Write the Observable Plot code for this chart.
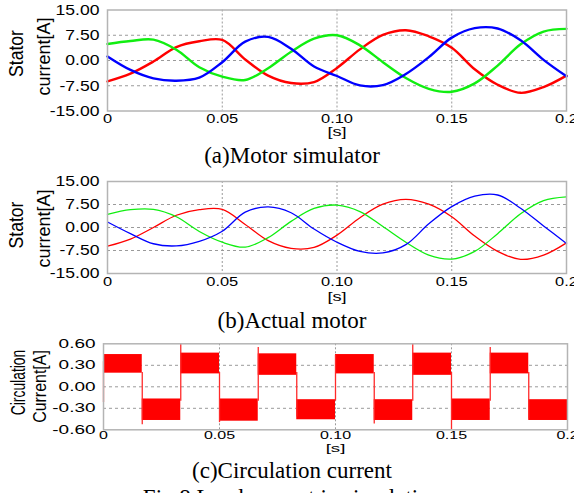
<!DOCTYPE html>
<html><head><meta charset="utf-8">
<script src="https://cdn.jsdelivr.net/npm/d3@7"></script>
<script src="https://cdn.jsdelivr.net/npm/@observablehq/plot@0.6"></script>
<style>
html,body{margin:0;padding:0;background:#fff;overflow:hidden;}
#wrap{position:relative;width:574px;height:493px;overflow:hidden;background:#fff;}
.panel{position:absolute;left:0;}
#overlay{position:absolute;left:0;top:0;pointer-events:none;}
</style></head><body>
<div id="wrap"></div>
<script>
// ---- data ----
const time = [0,0.01,0.02,0.03,0.04,0.05,0.06,0.07,0.08,0.09,0.1,0.11,0.12,0.13,0.14,0.15,0.16,0.17,0.18,0.19,0.2];
// (a) Motor simulator stator currents [A]
const simRed   = [-6.2,-3.9,-0.3,4.0,5.7,6.1,0.3,-4.5,-6.7,-6.4,-2.2,3.3,7.6,9.0,7.2,3.8,-2.6,-7.2,-9.6,-7.9,-4.5];
const simGreen = [4.9,5.8,6.2,3.2,-2.0,-4.8,-5.8,-2.3,2.6,6.5,7.5,4.5,-0.5,-5.2,-8.4,-9.3,-6.8,-1.5,4.8,8.6,9.4];
const simBlue  = [1.2,-2.8,-5.3,-6.0,-5.1,-0.5,5.6,7.0,3.5,-1.8,-4.6,-7.4,-7.3,-4.0,1.0,6.8,9.6,9.5,6.0,0.2,-4.7];
// (b) Actual motor stator currents [A]
const actRed   = [-6.1,-3.8,0.0,4.0,5.8,5.9,1.0,-4.3,-6.8,-6.5,-2.5,3.2,7.6,9.2,7.6,3.5,-2.8,-7.8,-10.4,-9.0,-5.0];
const actGreen = [4.3,5.8,5.9,3.5,-1.3,-4.8,-6.4,-3.3,2.0,6.2,7.3,5.2,0.3,-4.8,-9.0,-10.3,-7.8,-2.0,4.5,8.8,10.0];
const actBlue  = [1.8,-2.0,-5.3,-6.0,-4.5,-1.2,5.0,6.7,4.8,-0.5,-4.8,-7.8,-8.3,-5.6,1.2,6.8,10.2,10.6,6.3,0.5,-5.2];
// (c) Circulation current: segments between switching instants
const switchTimes = [0,0.0167,0.0333,0.05,0.0667,0.0833,0.1,0.1167,0.1333,0.15,0.1667,0.1833,0.2];
const segTop    = [0.45,-0.17,0.47,-0.17,0.46,-0.18,0.45,-0.18,0.47,-0.17,0.47,-0.18];
const segBottom = [0.19,-0.47,0.18,-0.48,0.16,-0.46,0.18,-0.47,0.16,-0.47,0.18,-0.47];
const edgeTimes = [0,0.0167,0.0333,0.05,0.0667,0.0833,0.1,0.1167,0.1333,0.15,0.1667,0.1833];
const edgeFrom  = [-0.22,0.2,-0.2,0.2,-0.2,0.2,-0.2,0.2,-0.2,0.2,-0.2,0.2];
const edgeTo    = [0.35,-0.53,0.6,-0.5,0.55,-0.42,0.44,-0.52,0.6,-0.6,0.55,-0.45];
// ticks
const xTicks = [0,0.05,0.1,0.15,0.2];
const xTickLabels = ["0","0.05","0.10","0.15","0.2"];
const xGrid = [0.05,0.1,0.15];
const statorTicks = [-15,-7.5,0,7.5,15];
const statorTickLabels = ["-15.00","-7.50","0.00","7.50","15.00"];
const statorGrid = [-7.5,0,7.5];
const circTicks = [-0.6,-0.3,0,0.3,0.6];
const circTickLabels = ["-0.60","-0.30","0.00","0.30","0.60"];
const circGrid = [-0.3,0,0.3];
const xUnit = "[s]";

const RED = "#ff0000", GREEN = "#11ee11", BLUE = "#0000ff";
const wrap = document.getElementById("wrap");

function rows(vals){ return time.map((t,i)=>({t, v: vals[i]})); }

function stretch(svg, selector, size, s){
  svg.querySelectorAll(selector).forEach(el=>{
    el.setAttribute("font-size", size);
    el.style.fontSize = size + "px";
    const x = +(el.getAttribute("x") || 0);
    const tr = el.getAttribute("transform") || "";
    el.setAttribute("transform", `${tr} translate(${x},0) scale(${s},1) translate(${-x},0)`);
  });
}

function makePanel(o){
  const chart = Plot.plot({
    width: 574, height: o.height,
    marginTop: o.mt, marginBottom: o.mb, marginLeft: o.ml, marginRight: o.mr,
    style: {fontFamily: "'Liberation Sans', Arial, sans-serif", background: "transparent", overflow: "visible", color: "#000"},
    x: {domain: [0,0.2], ticks: xTicks, tickFormat: d => { const i = xTicks.indexOf(d); return i >= 0 ? xTickLabels[i] : d; }, tickSize: 0, tickPadding: o.xPad, label: null},
    y: {domain: o.yDomain, ticks: o.yTicks, tickFormat: d => { const i = o.yTicks.indexOf(d); return i >= 0 ? o.yLabels[i] : d; }, tickSize: 0, tickPadding: o.yPad, label: null},
    marks: [
      Plot.ruleY(o.yGrid, {stroke: "#9a9a9a", strokeDasharray: "3,3", strokeWidth: 1}),
      Plot.ruleX(xGrid, {stroke: "#9a9a9a", strokeDasharray: "2,2", strokeWidth: 1}),
      ...o.marks,
      Plot.frame({stroke: "#b4b4b4", strokeWidth: 1.5}),
      Plot.text([{t: 0.1, s: xUnit}], {x: "t", text: "s", frameAnchor: "bottom", dy: o.sDy, fontSize: o.sSize, fill: "#000"})
    ]
  });
  chart.classList.add("panel");
  chart.style.top = o.top + "px";
  chart.style.position = "absolute";
  wrap.appendChild(chart);
  stretch(chart, 'g[aria-label^="y-axis"] text', o.ySize, o.yScale);
  stretch(chart, 'g[aria-label^="x-axis"] text', o.xSize, o.xScale);
  stretch(chart, 'g[aria-label="text"] text', o.sSize, o.sScale);
  return chart;
}

const lineMarks = (r,g,b,w) => [
  Plot.line(rows(r), {x: "t", y: "v", stroke: RED, strokeWidth: w, curve: "catmull-rom"}),
  Plot.line(rows(g), {x: "t", y: "v", stroke: GREEN, strokeWidth: w, curve: "catmull-rom"}),
  Plot.line(rows(b), {x: "t", y: "v", stroke: BLUE, strokeWidth: w, curve: "catmull-rom"})
];

// (a)
makePanel({top: 0, height: 141, mt: 9.5, mb: 30.5, ml: 107, mr: 8,
  yDomain: [-15,15], yTicks: statorTicks, yLabels: statorTickLabels, yGrid: statorGrid,
  xPad: 3, yPad: 8, ySize: 15, yScale: 1.17, xSize: 12, xScale: 1.37, sDy: 25, sSize: 13, sScale: 1.4,
  marks: lineMarks(simRed, simGreen, simBlue, 2.4)});
// (b)
makePanel({top: 170, height: 133, mt: 11, mb: 30, ml: 107, mr: 8,
  yDomain: [-15,15], yTicks: statorTicks, yLabels: statorTickLabels, yGrid: statorGrid,
  xPad: 4, yPad: 8, ySize: 15, yScale: 1.17, xSize: 12, xScale: 1.37, sDy: 27.5, sSize: 13, sScale: 1.4,
  marks: lineMarks(actRed, actGreen, actBlue, 1.3)});
// (c)
const segs = switchTimes.slice(0,-1).map((t,i)=>({x1: t, x2: switchTimes[i+1], y1: segBottom[i], y2: segTop[i]}));
const edges = edgeTimes.map((t,i)=>({t, y1: edgeFrom[i], y2: edgeTo[i]}));
makePanel({top: 335, height: 119.3, mt: 8.3, mb: 25, ml: 103, mr: 7,
  yDomain: [-0.6,0.6], yTicks: circTicks, yLabels: circTickLabels, yGrid: circGrid,
  xPad: 2.5, yPad: 8, ySize: 12, yScale: 1.58, xSize: 10, xScale: 1.6, sDy: 22, sSize: 11, sScale: 1.7,
  marks: [
    Plot.rect(segs, {x1: "x1", x2: "x2", y1: "y1", y2: "y2", fill: RED}),
    Plot.ruleX(edges, {x: "t", y1: "y1", y2: "y2", stroke: "#ff2a2a", strokeWidth: 1.3})
  ]});

// ---- text overlay: axis titles and captions ----
const captions = ["(a)Motor simulator", "(b)Actual motor", "(c)Circulation current", "Fig.8 Load current in simulation"];
const yTitles = [["Stator","current[A]"],["Stator","current[A]"],["Circulation","Current[A]"]];
const NS = "http://www.w3.org/2000/svg";
const ov = document.createElementNS(NS, "svg");
ov.setAttribute("id","overlay"); ov.setAttribute("width",574); ov.setAttribute("height",493);
wrap.appendChild(ov);
function addText(str, tr, size, family, anchor){
  const t = document.createElementNS(NS, "text");
  t.textContent = str;
  t.setAttribute("transform", tr);
  t.setAttribute("font-size", size);
  t.setAttribute("font-family", family);
  t.setAttribute("text-anchor", anchor || "middle");
  t.setAttribute("fill", "#000");
  ov.appendChild(t);
}
const SANS = "'Liberation Sans', Arial, sans-serif", SERIF = "'Liberation Serif', 'Times New Roman', serif";
addText(yTitles[0][0], "translate(23,53.5) rotate(-90) scale(0.88,1)", 20, SANS);
addText(yTitles[0][1], "translate(50,56.5) rotate(-90)", 18, SANS);
addText(yTitles[1][0], "translate(23,225) rotate(-90) scale(0.88,1)", 20, SANS);
addText(yTitles[1][1], "translate(50,228.5) rotate(-90)", 18, SANS);
addText(yTitles[2][0], "translate(25,382.5) rotate(-90) scale(0.66,1)", 21, SANS);
addText(yTitles[2][1], "translate(46,386.5) rotate(-90) scale(0.84,1)", 19, SANS);
addText(captions[0], "translate(292,163)", 23, SERIF);
addText(captions[1], "translate(292,328)", 23, SERIF);
addText(captions[2], "translate(292,478)", 23, SERIF);
addText(captions[3], "translate(292,505)", 23, SERIF);
</script>
</body></html>
